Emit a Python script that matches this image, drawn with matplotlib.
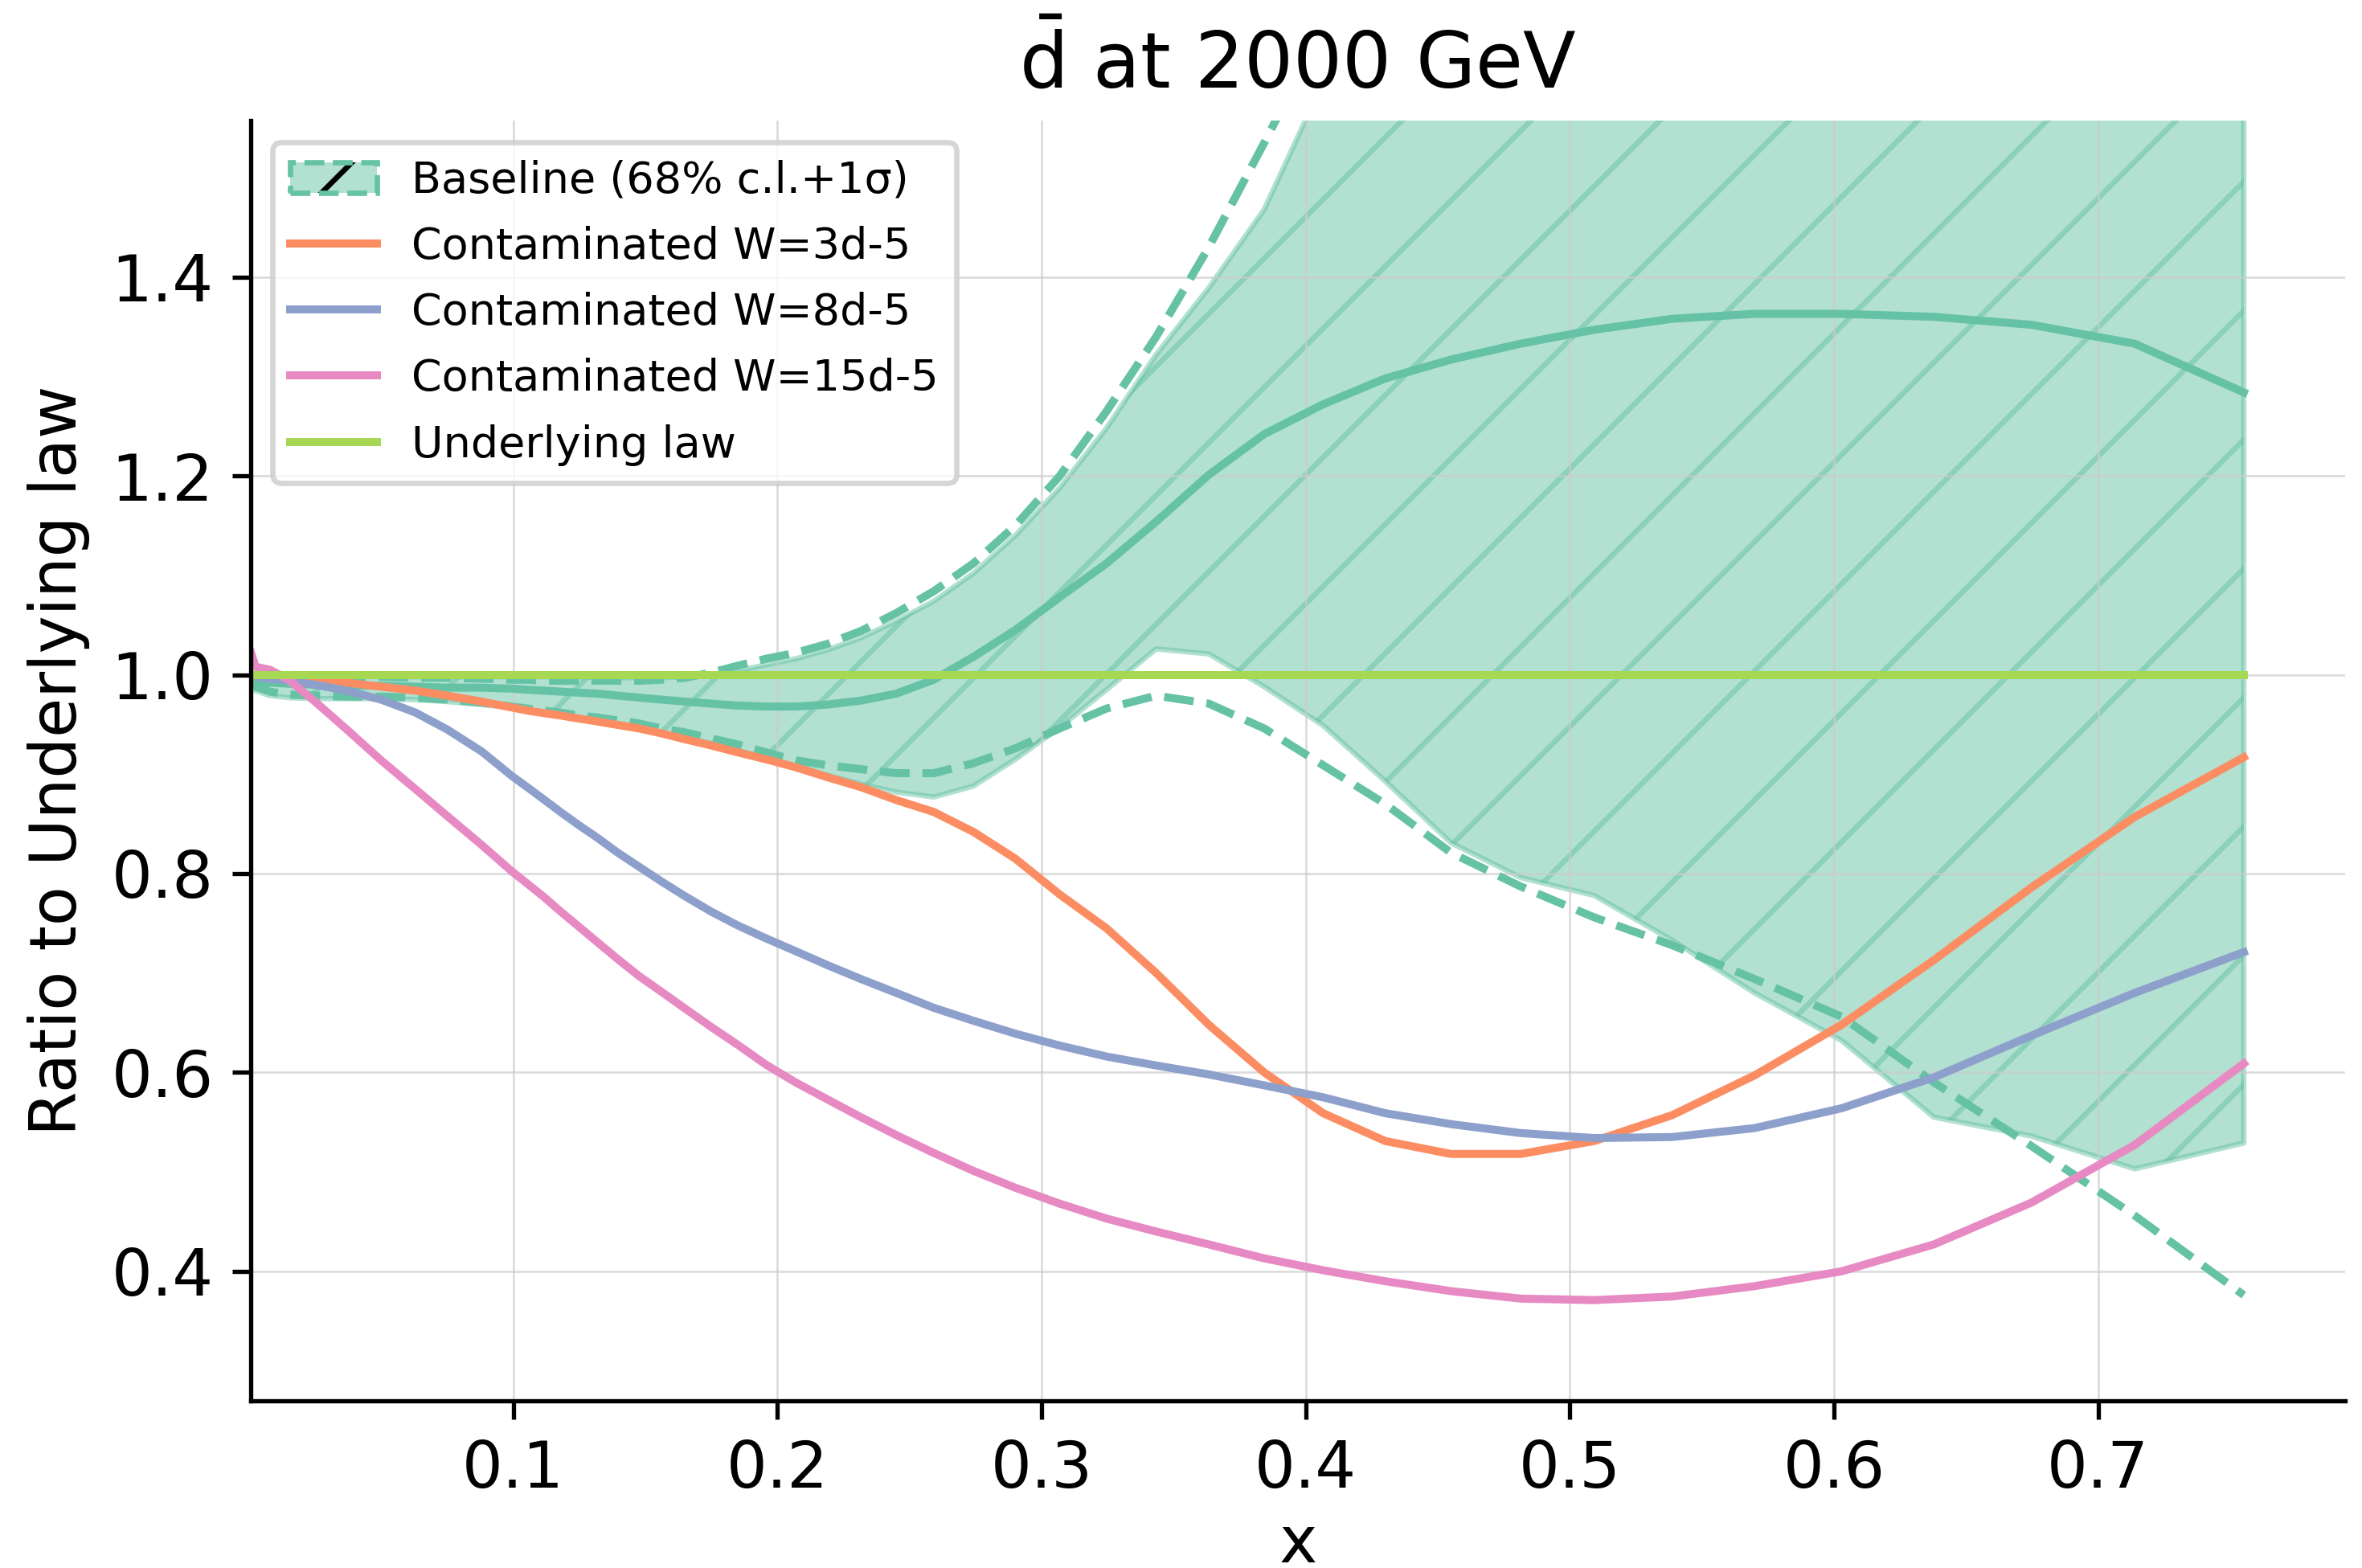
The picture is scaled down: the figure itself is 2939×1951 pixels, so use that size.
import numpy as np
import matplotlib
matplotlib.use("Agg")
import matplotlib.pyplot as plt
from matplotlib.patches import Patch
from matplotlib.lines import Line2D
from matplotlib.collections import LineCollection
from matplotlib.transforms import IdentityTransform

# x grid (log-spaced at large x, as in the source)
x = [0.0008, 0.0025, 0.008, 0.015, 0.025, 0.037, 0.05, 0.063, 0.075, 0.088,
     0.0996, 0.1053, 0.1114, 0.1179, 0.1247, 0.1319, 0.1396, 0.1476, 0.1562, 0.1652,
     0.1748, 0.1849, 0.1956, 0.2069, 0.2189, 0.2316, 0.2450, 0.2592, 0.2742, 0.2901,
     0.3069, 0.3246, 0.3434, 0.3633, 0.3843, 0.4066, 0.4301, 0.4550, 0.4814, 0.5092,
     0.5387, 0.5699, 0.6029, 0.6378, 0.6747, 0.7138, 0.7551]

# baseline fit: central value, 68% c.l. band, +-1 sigma
base_central = [0.994, 0.993, 0.992, 0.991, 0.990, 0.989, 0.989, 0.988, 0.987, 0.987,
                0.986, 0.985, 0.984, 0.983, 0.982, 0.981, 0.979, 0.977, 0.975, 0.973,
                0.971, 0.969, 0.968, 0.968, 0.970, 0.974, 0.981, 0.995, 1.018, 1.045,
                1.078, 1.112, 1.154, 1.201, 1.242, 1.272, 1.298, 1.317, 1.333, 1.347,
                1.358, 1.363, 1.363, 1.360, 1.352, 1.333, 1.284]
cl_upper = [0.999, 0.999, 0.999, 0.999, 0.999, 0.999, 0.998, 0.998, 0.998, 0.998,
            0.998, 0.998, 0.998, 0.998, 0.998, 0.997, 0.997, 0.997, 0.997, 0.998,
            1.000, 1.004, 1.010, 1.016, 1.025, 1.037, 1.054, 1.074, 1.102, 1.140,
            1.188, 1.248, 1.322, 1.389, 1.468, 1.596, 1.75, 1.90, 2.00, 2.10,
            2.20, 2.25, 2.30, 2.30, 2.30, 2.30, 2.30]
cl_lower = [0.990, 0.984, 0.979, 0.977, 0.976, 0.976, 0.976, 0.975, 0.973, 0.970,
            0.967, 0.965, 0.962, 0.960, 0.957, 0.954, 0.951, 0.947, 0.942, 0.937,
            0.931, 0.924, 0.916, 0.908, 0.899, 0.890, 0.882, 0.877, 0.888, 0.915,
            0.947, 0.985, 1.026, 1.021, 0.988, 0.949, 0.893, 0.831, 0.796, 0.778,
            0.733, 0.680, 0.632, 0.555, 0.536, 0.503, 0.529]
sig_upper = [0.998, 0.999, 1.000, 1.000, 0.999, 0.998, 0.998, 0.997, 0.997, 0.996,
             0.995, 0.995, 0.994, 0.994, 0.994, 0.994, 0.994, 0.994, 0.995, 0.997,
             1.002, 1.009, 1.016, 1.022, 1.031, 1.044, 1.062, 1.084, 1.112, 1.150,
             1.200, 1.265, 1.340, 1.430, 1.535, 1.650, 1.78, 1.90, 2.00, 2.10,
             2.20, 2.30, 2.40, 2.50, 2.60, 2.70, 2.80]
sig_lower = [0.993, 0.988, 0.983, 0.980, 0.979, 0.978, 0.978, 0.977, 0.975, 0.972,
             0.968, 0.966, 0.964, 0.962, 0.959, 0.957, 0.954, 0.951, 0.946, 0.942,
             0.936, 0.930, 0.922, 0.914, 0.909, 0.905, 0.901, 0.901, 0.911, 0.926,
             0.946, 0.966, 0.979, 0.971, 0.946, 0.909, 0.870, 0.821, 0.787, 0.756,
             0.728, 0.694, 0.656, 0.590, 0.526, 0.456, 0.376]

# contaminated fits
cont_3 = [0.999, 0.999, 0.998, 0.997, 0.995, 0.992, 0.988, 0.984, 0.979, 0.973,
          0.967, 0.964, 0.9615, 0.959, 0.956, 0.953, 0.9495, 0.946, 0.941, 0.935,
          0.929, 0.922, 0.915, 0.907, 0.897, 0.887, 0.874, 0.862, 0.842, 0.815,
          0.779, 0.745, 0.700, 0.648, 0.600, 0.559, 0.531, 0.518, 0.518, 0.531,
          0.557, 0.597, 0.648, 0.713, 0.786, 0.857, 0.917]
cont_8 = [0.998, 0.998, 0.996, 0.994, 0.990, 0.984, 0.975, 0.962, 0.945, 0.923,
          0.898, 0.887, 0.875, 0.862, 0.849, 0.836, 0.821, 0.807, 0.792, 0.777,
          0.762, 0.748, 0.735, 0.722, 0.708, 0.694, 0.680, 0.665, 0.652, 0.639,
          0.627, 0.616, 0.607, 0.598, 0.587, 0.575, 0.559, 0.548, 0.539, 0.534,
          0.535, 0.544, 0.564, 0.595, 0.637, 0.680, 0.721]
cont_15 = [1.022, 1.008, 1.005, 0.995, 0.973, 0.945, 0.914, 0.885, 0.858, 0.829,
           0.802, 0.790, 0.777, 0.762, 0.747, 0.731, 0.714, 0.697, 0.681, 0.664,
           0.646, 0.628, 0.608, 0.590, 0.573, 0.555, 0.537, 0.519, 0.501, 0.484,
           0.468, 0.453, 0.440, 0.427, 0.413, 0.401, 0.390, 0.380, 0.3725, 0.371,
           0.3746, 0.385, 0.400, 0.427, 0.469, 0.527, 0.609]
underlying = [1.0] * len(x)

c_base, c_3, c_8, c_15, c_law = '#66c2a5', '#fc8d62', '#8da0cb', '#e78ac3', '#a6d854'

DPI = 480
fig = plt.figure(figsize=(2939 / DPI, 1951 / DPI), dpi=DPI)
ax = fig.add_subplot(111)
fig.subplots_adjust(left=0.1063, right=0.9929, top=0.9231, bottom=0.1065)

band = ax.fill_between(x, cl_lower, cl_upper, color=c_base, alpha=0.5)
ax.plot(x, base_central, color=c_base, lw=1.5)
ax.plot(x, sig_upper, color=c_base, lw=1.5, ls='--')
ax.plot(x, sig_lower, color=c_base, lw=1.5, ls='--')
ax.plot(x, cont_3, color=c_3, lw=1.5)
ax.plot(x, cont_8, color=c_8, lw=1.5)
ax.plot(x, cont_15, color=c_15, lw=1.5)
ax.plot(x, underlying, color=c_law, lw=1.5)

ax.set_xlim(x[0], 0.7935)
ax.set_ylim(0.2695, 1.5574)
ax.set_xticks([0.1, 0.2, 0.3, 0.4, 0.5, 0.6, 0.7])
ax.set_yticks([0.4, 0.6, 0.8, 1.0, 1.2, 1.4])
ax.tick_params(labelsize=12)
ax.grid(True, color='#cccccc', lw=0.4, alpha=0.7)
ax.spines[['top', 'right']].set_visible(False)

# sparse "/" hatch on the band (45 deg in pixels), clipped to the band polygon
bb = ax.bbox
step, phase = 160.5, 425.0
k0 = int(np.floor((bb.x0 - bb.y1 - phase) / step)) - 1
k1 = int(np.ceil((bb.x1 - bb.y0 - phase) / step)) + 1
segs = []
for k in range(k0, k1 + 1):
    c = phase + step * k
    segs.append([(bb.x0, bb.x0 - c), (bb.x1, bb.x1 - c)])
hatch = LineCollection(segs, colors=c_base, alpha=0.5, linewidths=1.0,
                       transform=IdentityTransform(), zorder=1.2)
ax.add_collection(hatch, autolim=False)
hatch.set_clip_box(ax.bbox)
hatch.set_clip_path(band.get_paths()[0], ax.transData)

ax.set_title(r'$\bar{\mathrm{d}}$ at 2000 GeV', fontsize=14.4)
ax.set_xlabel('x', fontsize=12, labelpad=2.3)
ax.set_ylabel('Ratio to Underlying law', fontsize=12)

band_handle = (Patch(facecolor=c_base, alpha=0.5, hatch='/'),
               Patch(fill=False, edgecolor=c_base, ls='--', lw=1.0))
handles = [band_handle,
           Line2D([], [], color=c_3, lw=1.5),
           Line2D([], [], color=c_8, lw=1.5),
           Line2D([], [], color=c_15, lw=1.5),
           Line2D([], [], color=c_law, lw=1.5)]
labels = ['Baseline (68% c.l.+1σ)', 'Contaminated W=3d-5', 'Contaminated W=8d-5',
          'Contaminated W=15d-5', 'Underlying law']
ax.legend(handles, labels, loc='upper left', fontsize=8.1, labelspacing=0.56)

fig.savefig('out.png', dpi=DPI)
